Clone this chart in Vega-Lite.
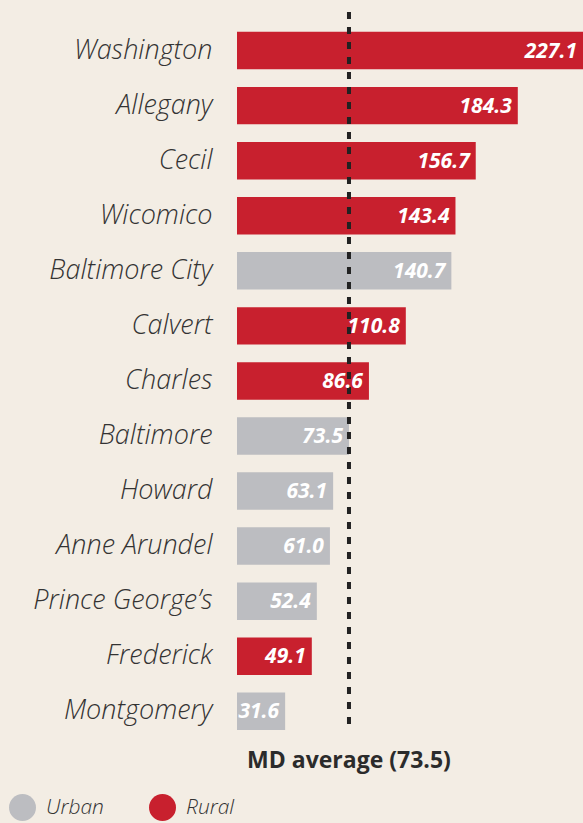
{
  "$schema": "https://vega.github.io/schema/vega-lite/v6.json",
  "width": 346,
  "height": 718,
  "autosize": {"type": "none"},
  "padding": {"left": 237, "top": 12, "right": 0, "bottom": 93},
  "background": "#f3ede4",
  "config": {"view": {"stroke": null}, "font": "Open Sans"},
  "datasets": {
    "counties": [
      {"county": "Washington", "value": 227.1, "type": "Rural"},
      {"county": "Allegany", "value": 184.3, "type": "Rural"},
      {"county": "Cecil", "value": 156.7, "type": "Rural"},
      {"county": "Wicomico", "value": 143.4, "type": "Rural"},
      {"county": "Baltimore City", "value": 140.7, "type": "Urban"},
      {"county": "Calvert", "value": 110.8, "type": "Rural"},
      {"county": "Charles", "value": 86.6, "type": "Rural"},
      {"county": "Baltimore", "value": 73.5, "type": "Urban"},
      {"county": "Howard", "value": 63.1, "type": "Urban"},
      {"county": "Anne Arundel", "value": 61.0, "type": "Urban"},
      {"county": "Prince George’s", "value": 52.4, "type": "Urban"},
      {"county": "Frederick", "value": 49.1, "type": "Rural"},
      {"county": "Montgomery", "value": 31.6, "type": "Urban"}
    ],
    "average": [
      {"county": "Montgomery", "avg": 73.5, "label": "MD average (73.5)"}
    ]
  },
  "layer": [
    {
      "data": {"name": "counties"},
      "mark": {"type": "bar"},
      "encoding": {
        "y": {
          "field": "county",
          "type": "nominal",
          "sort": ["Washington", "Allegany", "Cecil", "Wicomico", "Baltimore City", "Calvert", "Charles", "Baltimore", "Howard", "Anne Arundel", "Prince George’s", "Frederick", "Montgomery"],
          "scale": {"paddingInner": 0.32, "paddingOuter": 0.18, "align": 1},
          "axis": {
            "title": null,
            "domain": false,
            "ticks": false,
            "labelPadding": 25,
            "labelFontSize": 27,
            "labelFont": "Open Sans",
            "labelFontStyle": "italic",
            "labelFontWeight": 300,
            "labelColor": "#333333",
            "labelLimit": 300
          }
        },
        "x": {
          "field": "value",
          "type": "quantitative",
          "scale": {"domain": [0, 227.1], "nice": false, "zero": true},
          "axis": null
        },
        "color": {
          "field": "type",
          "type": "nominal",
          "scale": {"domain": ["Urban", "Rural"], "range": ["#bcbdc1", "#c8202e"]},
          "legend": {
            "title": null,
            "orient": "none",
            "legendX": -228,
            "legendY": 782,
            "direction": "horizontal",
            "columns": 2,
            "padding": 0,
            "symbolType": "circle",
            "symbolSize": 729,
            "symbolStrokeWidth": 0,
            "symbolOpacity": 1,
            "labelFont": "Open Sans",
            "labelFontSize": 21,
            "labelFontStyle": "italic",
            "labelFontWeight": 300,
            "labelColor": "#333333",
            "labelOffset": 10,
            "columnPadding": 45
          }
        }
      }
    },
    {
      "data": {"name": "average"},
      "mark": {"type": "rule", "strokeDash": [7, 8], "strokeWidth": 4, "color": "#222222"},
      "encoding": {
        "x": {"field": "avg", "type": "quantitative"}
      }
    },
    {
      "data": {"name": "counties"},
      "mark": {"type": "text", "align": "right", "baseline": "middle", "dx": -6, "dy": 1, "fontSize": 21, "fontStyle": "italic", "fontWeight": "bold", "color": "#ffffff"},
      "encoding": {
        "y": {"field": "county", "type": "nominal", "sort": ["Washington", "Allegany", "Cecil", "Wicomico", "Baltimore City", "Calvert", "Charles", "Baltimore", "Howard", "Anne Arundel", "Prince George’s", "Frederick", "Montgomery"]},
        "x": {"field": "value", "type": "quantitative"},
        "text": {"field": "value", "type": "quantitative", "format": ".1f"}
      }
    },
    {
      "data": {"name": "average"},
      "mark": {"type": "text", "align": "center", "baseline": "middle", "dy": 50, "fontSize": 23, "fontWeight": "bold", "color": "#2b2b2b"},
      "encoding": {
        "y": {"field": "county", "type": "nominal", "sort": ["Washington", "Allegany", "Cecil", "Wicomico", "Baltimore City", "Calvert", "Charles", "Baltimore", "Howard", "Anne Arundel", "Prince George’s", "Frederick", "Montgomery"]},
        "x": {"field": "avg", "type": "quantitative"},
        "text": {"field": "label", "type": "nominal"}
      }
    }
  ]
}
